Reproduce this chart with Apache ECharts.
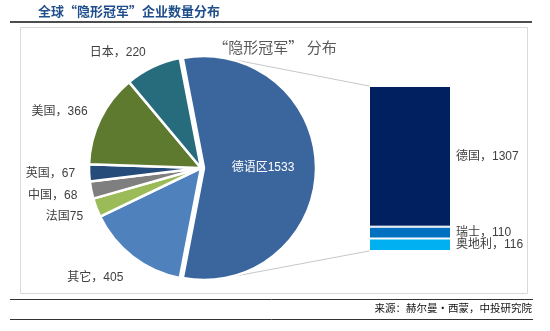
<!DOCTYPE html>
<html>
<head>
<meta charset="utf-8">
<script src="https://cdn.jsdelivr.net/npm/echarts@6/dist/echarts.min.js"></script>
<style>
html,body{margin:0;padding:0;background:#fff;}
#main{width:550px;height:331px;}
</style>
</head>
<body>
<div id="main"></div>
<script>
// ---- data ----
const pieNames = ['德语区', '其它', '法国', '中国', '英国', '美国', '日本'];
const pieValues = [1533, 405, 75, 68, 67, 366, 220];
const pieLabelJoin = ['', '，', '', '，', '，', '，', '，'];
const pieColors = ['#3b669d', '#4f81bd', '#9bbb59', '#7f7f7f', '#254b7a', '#5e7a2e', '#276c7c'];

const barCategory = ['德语区'];
const barNames = ['奥地利', '瑞士', '德国'];
const barValues = [116, 110, 1307];
const barColors = ['#00b0f0', '#0070c0', '#002060'];

const mainTitle = '全球“隐形冠军”企业数量分布';
const chartTitle = '“隐形冠军” 分布';
const sourceText = '来源：赫尔曼·西蒙，中投研究院';

// ---- chart ----
const FONT = '"Liberation Sans", "Noto Sans CJK SC", sans-serif';
const CJK = '"Noto Sans CJK SC", sans-serif';
const total = pieValues.reduce((a, b) => a + b, 0);
const startAngle = pieValues[0] / total * 180;
const pieCenter = [201, 168];
const pieRadius = 112;

// mid angles (degrees, ECharts convention, CCW from east)
const midAngles = [];
(function () {
  let a = startAngle;
  pieValues.forEach(v => {
    const span = v / total * 360;
    midAngles.push(a - span / 2);
    a -= span;
  });
})();

const pieData = pieNames.map((n, i) => {
  const d = { name: n, value: pieValues[i], itemStyle: { color: pieColors[i] } };
  if (i === 0) {
    d.selected = true;
    d.label = { position: 'inside', color: '#ffffff' };
  }
  return d;
});

const barSeries = barNames.map((n, i) => ({
  type: 'bar',
  name: n,
  stack: 'de',
  barWidth: '100%',
  data: [barValues[i]],
  itemStyle: { color: barColors[i], borderColor: '#ffffff', borderWidth: 1 },
  label: {
    show: true,
    position: 'right',
    distance: 5,
    color: '#404040',
    fontSize: 12,
    fontFamily: FONT,
    formatter: p => p.seriesName + '，' + p.value
  },
  emphasis: { disabled: true },
  silent: true
}));

const chart = echarts.init(document.getElementById('main'), null, { renderer: 'canvas' });

const option = {
  backgroundColor: '#ffffff',
  animation: false,
  title: {
    text: chartTitle,
    left: 270,
    top: 35,
    textAlign: 'center',
    textStyle: { color: '#595959', fontSize: 15, fontWeight: 'normal', fontFamily: CJK }
  },
  grid: { left: 369, top: 86, width: 82, height: 165, containLabel: false },
  xAxis: { type: 'category', data: barCategory, show: false },
  yAxis: { type: 'value', min: 0, max: pieValues[0], show: false },
  series: [
    {
      type: 'pie',
      center: pieCenter,
      radius: pieRadius,
      startAngle: startAngle,
      clockwise: true,
      selectedMode: 'single',
      selectedOffset: 3,
      avoidLabelOverlap: false,
      silent: true,
      data: pieData,
      itemStyle: { borderColor: '#ffffff', borderWidth: 2.5 },
      label: {
        show: true,
        position: 'outside',
        color: '#404040',
        fontSize: 12,
        fontFamily: FONT,
        distanceToLabelLine: 2,
        formatter: p => p.name + pieLabelJoin[p.dataIndex] + p.value
      },
      labelLine: { show: false, length: 12, length2: 0 },
      labelLayout: function (params) {
        if (params.dataIndex === 0) return {};
        const a = midAngles[params.dataIndex] * Math.PI / 180;
        const dirY = -Math.sin(a);
        const k = dirY > 0 ? 0.6 : 0.15;
        return { dy: dirY * params.labelRect.height * k };
      },
      emphasis: { disabled: true }
    }
  ].concat(barSeries),
  graphic: []
};

chart.setOption(option);

// connector lines: tangent from bar corners to the pie circle
function buildGraphics() {
  const gridRect = chart.getModel().getComponent('grid').coordinateSystem.getRect();
  const barLeft = gridRect.x;
  const yTop = chart.convertToPixel({ yAxisIndex: 0 }, pieValues[0]);
  const yBot = chart.convertToPixel({ yAxisIndex: 0 }, 0);
  const off = 3; // selected offset of first slice
  const m0 = midAngles[0] * Math.PI / 180;
  const cx = pieCenter[0] + off * Math.cos(m0);
  const cy = pieCenter[1] - off * Math.sin(m0);
  function tangent(qx, qy, upper) {
    const dx = qx - cx, dy = qy - cy;
    const d = Math.sqrt(dx * dx + dy * dy);
    const phi = Math.atan2(dy, dx);
    const alpha = Math.acos(pieRadius / d);
    const t1 = phi + alpha, t2 = phi - alpha;
    const p1 = [cx + pieRadius * Math.cos(t1), cy + pieRadius * Math.sin(t1)];
    const p2 = [cx + pieRadius * Math.cos(t2), cy + pieRadius * Math.sin(t2)];
    if (upper) return p1[1] < p2[1] ? p1 : p2;
    return p1[1] > p2[1] ? p1 : p2;
  }
  const pt = tangent(barLeft, yTop, true);
  const pb = tangent(barLeft, yBot, false);
  const lineStyle = { stroke: '#c8c8c8', lineWidth: 1 };
  return [
    { type: 'rect', shape: { x: 20.5, y: 27.5, width: 507, height: 266 }, style: { fill: 'none', stroke: '#d9d9d9', lineWidth: 1 }, z: -1, silent: true },
    { type: 'line', shape: { x1: 10, y1: 22, x2: 532, y2: 22 }, style: { stroke: '#4d4d4d', lineWidth: 2 }, silent: true },
    { type: 'line', shape: { x1: 10, y1: 299.5, x2: 533, y2: 299.5 }, style: { stroke: '#333333', lineWidth: 1 }, silent: true },
    { type: 'line', shape: { x1: 10, y1: 319.5, x2: 533, y2: 319.5 }, style: { stroke: '#333333', lineWidth: 1 }, silent: true },
    { type: 'text', left: 38, top: 5, style: { text: mainTitle, fill: '#1f4e8c', font: 'bold 13px "Noto Sans CJK SC", sans-serif' }, silent: true },
    { type: 'text', right: 18, top: 303, style: { text: sourceText, fill: '#111111', font: '10.5px "Noto Sans CJK SC", sans-serif' }, silent: true },
    { type: 'line', shape: { x1: pt[0], y1: pt[1], x2: barLeft, y2: yTop }, style: lineStyle, silent: true },
    { type: 'line', shape: { x1: pb[0], y1: pb[1], x2: barLeft, y2: yBot }, style: lineStyle, silent: true }
  ];
}
chart.setOption({ graphic: buildGraphics() });
</script>
</body>
</html>
